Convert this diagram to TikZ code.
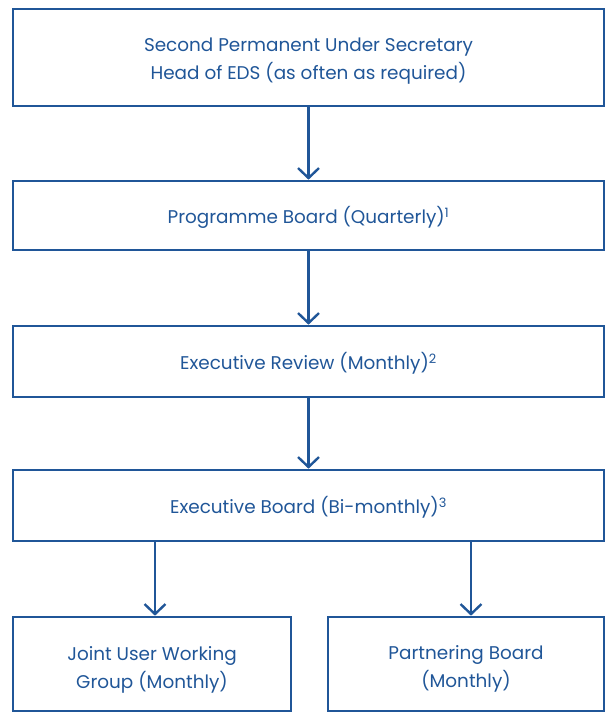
\documentclass[tikz,border=0pt]{standalone}
\usepackage{fontspec}
\setmainfont{Poppins}
\usepackage{tikz}
\usetikzlibrary{arrows.meta,positioning}
\definecolor{edsblue}{RGB}{32,86,152}
% text set lower by #1 inside its box, lines centred
\newcommand{\boxtext}[2]{\raisebox{-#1}[\height][\depth]{\begin{tabular}{@{}c@{}}#2\end{tabular}}}

\begin{document}
\begin{tikzpicture}
		[x=1pt,y=-1pt,
		box/.style={draw=edsblue,line width=2.6pt,fill=none,text=edsblue,
			font=\fontsize{18.4}{27.5}\selectfont,inner sep=0pt},
		link/.style={draw=edsblue,line width=2.4pt,
			-{Straight Barb[length=10pt,width=21pt,line width=2.4pt]}}]
		\useasboundingbox (0,0) rectangle (605,713);
		
		\node[box,minimum width=591pt,minimum height=97pt] (sec) at (308.5,57.5)
		{\boxtext{2.5pt}{Second Permanent Under Secretary\\Head of EDS (as often as required)}};
		\node[box,minimum width=591pt,minimum height=69pt] (prog) at (308.5,215.5)
		{\boxtext{2.5pt}{Programme Board (Quarterly)\textsuperscript{1}}};
		\node[box,minimum width=591pt,minimum height=71pt] (rev) at (308.5,361.5)
		{\boxtext{2.5pt}{Executive Review (Monthly)\textsuperscript{2}}};
		\node[box,minimum width=591pt,minimum height=71pt] (exec) at (308.5,505.5)
		{\boxtext{2.5pt}{Executive Board (Bi-monthly)\textsuperscript{3}}};
		
		\node[box,minimum width=278pt,minimum height=94pt] (juwg) at (152,664)
		{\boxtext{5pt}{Joint User Working\\Group (Monthly)}};
		\node[box,minimum width=276pt,minimum height=94pt] (part) at (466,664)
		{\boxtext{4pt}{Partnering Board\\(Monthly)}};
		
		\draw[link] (sec) to (prog);
		\draw[link] (prog) to (rev);
		\draw[link] (rev) to (exec);
		\draw[link] ([xshift=3pt]exec.south -| juwg) to ([xshift=3pt]juwg.north);
		\draw[link] ([xshift=5pt]exec.south -| part) to ([xshift=5pt]part.north);
\end{tikzpicture}
\end{document}
